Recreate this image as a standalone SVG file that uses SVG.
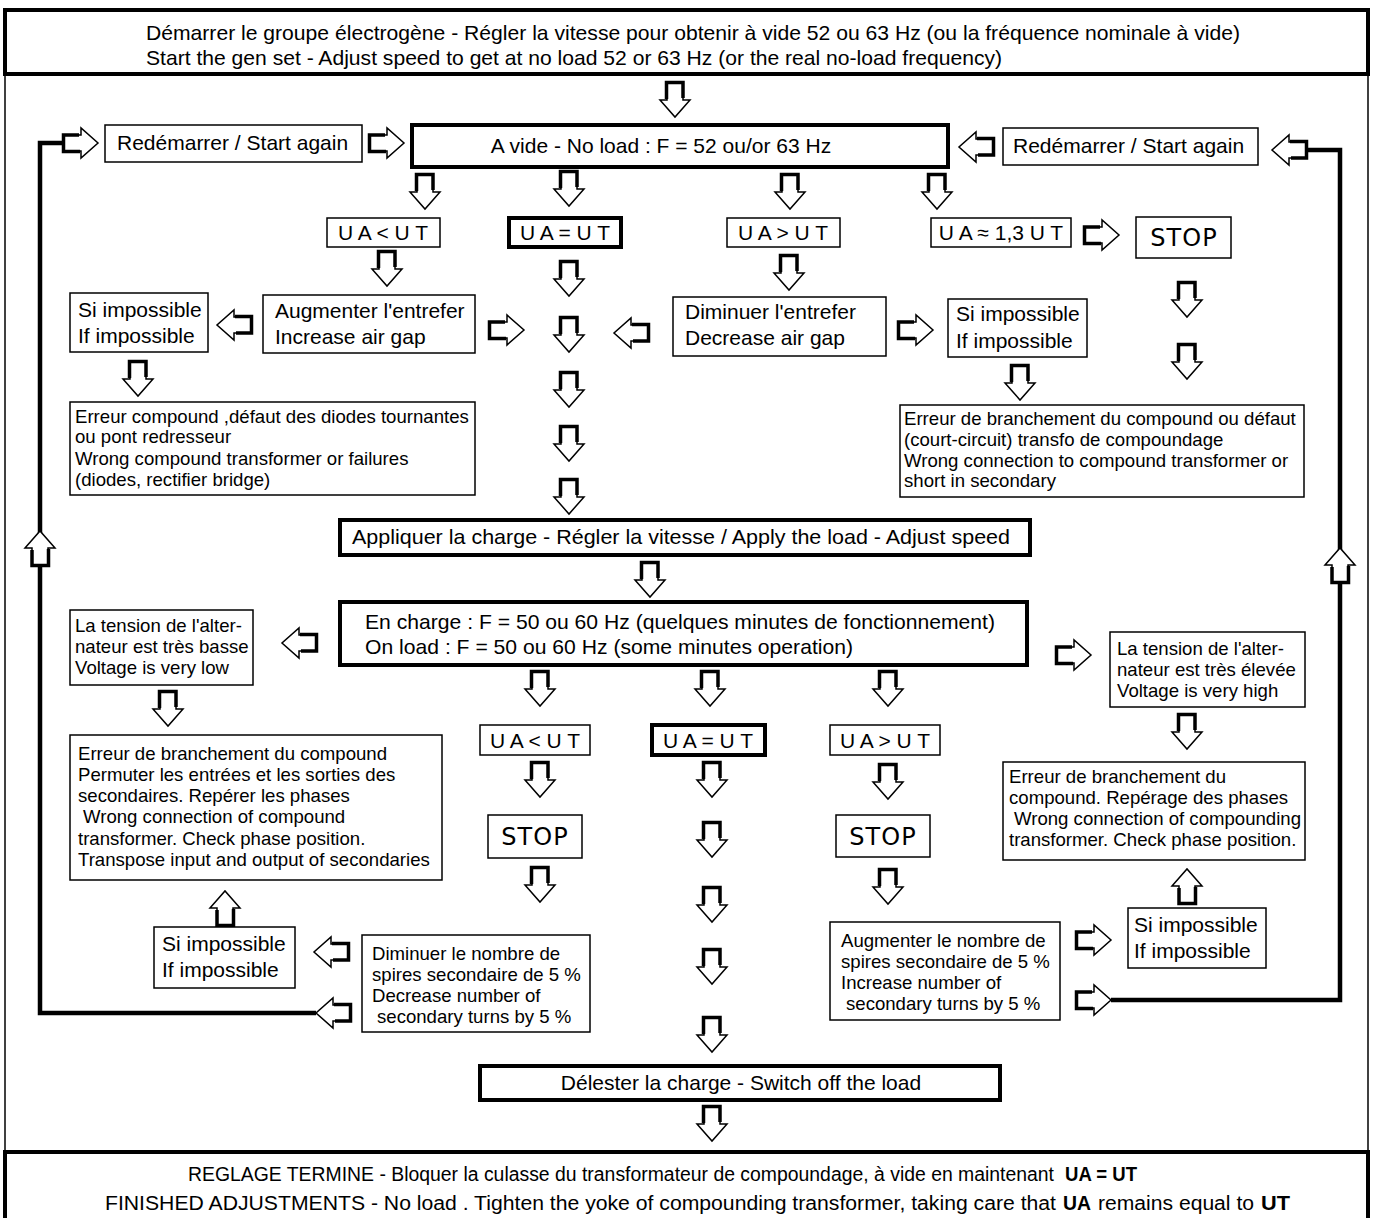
<svg xmlns="http://www.w3.org/2000/svg" xmlns:xlink="http://www.w3.org/1999/xlink" width="1373" height="1218" viewBox="0 0 1373 1218">
<style>
text{font-family:"Liberation Sans",Arial,sans-serif;font-size:21px;fill:#000}
.s{font-size:18.6px}
.e{font-size:19.5px}
.b{font-weight:bold}
.stop{font-family:"DejaVu Sans","Liberation Sans",sans-serif;font-size:24px;letter-spacing:1px}
.thin{fill:#fff;stroke:#000;stroke-width:1.5}
.thick{fill:#fff;stroke:#000;stroke-width:4}
.frame{fill:none;stroke:#000;stroke-width:1.5}
.loop{fill:none;stroke:#000;stroke-width:4.5}
</style>
<defs>
<g id="ad">
<polygon points="-8,0 8,0 8,17 15,17 0,34 -15,17 -8,17" fill="#fff" stroke="#000" stroke-width="1.5" stroke-linejoin="miter"/>
<path d="M-8.5,16 V-0.5 H8 V15" fill="none" stroke="#000" stroke-width="3.5"/>
</g>
</defs>
<rect width="1373" height="1218" fill="#fff"/>
<g id="frame">
<line x1="5" y1="10" x2="5" y2="1218" class="frame"/>
<line x1="1368" y1="10" x2="1368" y2="1218" class="frame"/>
</g>
<g id="connectors">
<polyline class="loop" points="316,1013 40,1013 40,143 64,143"/>
<polyline class="loop" points="1111,1000 1340,1000 1340,150 1306,150"/>
<use xlink:href="#ad" transform="translate(675,83)"/>
<use xlink:href="#ad" transform="translate(64,143) rotate(-90)"/>
<use xlink:href="#ad" transform="translate(370,143) rotate(-90)"/>
<use xlink:href="#ad" transform="translate(993,147) rotate(90)"/>
<use xlink:href="#ad" transform="translate(1306,150) rotate(90)"/>
<use xlink:href="#ad" transform="translate(425,175)"/>
<use xlink:href="#ad" transform="translate(569,172)"/>
<use xlink:href="#ad" transform="translate(790,175)"/>
<use xlink:href="#ad" transform="translate(937,175)"/>
<use xlink:href="#ad" transform="translate(1085,235) rotate(-90)"/>
<use xlink:href="#ad" transform="translate(387,252)"/>
<use xlink:href="#ad" transform="translate(569,262)"/>
<use xlink:href="#ad" transform="translate(569,318)"/>
<use xlink:href="#ad" transform="translate(569,373)"/>
<use xlink:href="#ad" transform="translate(569,427)"/>
<use xlink:href="#ad" transform="translate(569,480)"/>
<use xlink:href="#ad" transform="translate(789,256)"/>
<use xlink:href="#ad" transform="translate(1187,283)"/>
<use xlink:href="#ad" transform="translate(1187,345)"/>
<use xlink:href="#ad" transform="translate(251,325) rotate(90)"/>
<use xlink:href="#ad" transform="translate(490,330) rotate(-90)"/>
<use xlink:href="#ad" transform="translate(648,333) rotate(90)"/>
<use xlink:href="#ad" transform="translate(899,330) rotate(-90)"/>
<use xlink:href="#ad" transform="translate(138,362)"/>
<use xlink:href="#ad" transform="translate(1020,366)"/>
<use xlink:href="#ad" transform="translate(40,565) rotate(180)"/>
<use xlink:href="#ad" transform="translate(1340,582) rotate(180)"/>
<use xlink:href="#ad" transform="translate(650,563)"/>
<use xlink:href="#ad" transform="translate(316,643) rotate(90)"/>
<use xlink:href="#ad" transform="translate(1057,655) rotate(-90)"/>
<use xlink:href="#ad" transform="translate(540,672)"/>
<use xlink:href="#ad" transform="translate(710,672)"/>
<use xlink:href="#ad" transform="translate(888,672)"/>
<use xlink:href="#ad" transform="translate(168,692)"/>
<use xlink:href="#ad" transform="translate(1187,715)"/>
<use xlink:href="#ad" transform="translate(540,763)"/>
<use xlink:href="#ad" transform="translate(540,868)"/>
<use xlink:href="#ad" transform="translate(888,765)"/>
<use xlink:href="#ad" transform="translate(888,870)"/>
<use xlink:href="#ad" transform="translate(712,763)"/>
<use xlink:href="#ad" transform="translate(712,823)"/>
<use xlink:href="#ad" transform="translate(712,888)"/>
<use xlink:href="#ad" transform="translate(712,950)"/>
<use xlink:href="#ad" transform="translate(712,1018)"/>
<use xlink:href="#ad" transform="translate(225,925) rotate(180)"/>
<use xlink:href="#ad" transform="translate(1187,903) rotate(180)"/>
<use xlink:href="#ad" transform="translate(348,952) rotate(90)"/>
<use xlink:href="#ad" transform="translate(350,1013) rotate(90)"/>
<use xlink:href="#ad" transform="translate(1077,940) rotate(-90)"/>
<use xlink:href="#ad" transform="translate(1077,1000) rotate(-90)"/>
<use xlink:href="#ad" transform="translate(712,1107)"/>
</g>
<g id="n-start">
<rect class="thick" x="5" y="10" width="1363" height="64"/>
<text x="146" y="40" textLength="1094" lengthAdjust="spacingAndGlyphs">Démarrer le groupe électrogène - Régler la vitesse pour obtenir à vide 52 ou 63 Hz (ou la fréquence nominale à vide)</text>
<text x="146" y="65" textLength="856" lengthAdjust="spacingAndGlyphs">Start the gen set - Adjust speed to get at no load 52 or 63 Hz (or the real no-load frequency)</text>
</g>
<g id="n-novide">
<rect class="thick" x="412" y="125" width="536" height="42"/>
<text x="661" y="153" text-anchor="middle">A vide - No load : F = 52 ou/or 63 Hz</text>
</g>
<g id="n-restart-l">
<rect class="thin" x="105" y="125" width="257" height="37"/>
<text x="117" y="150">Redémarrer / Start again</text>
</g>
<g id="n-restart-r">
<rect class="thin" x="1003" y="128" width="255" height="37"/>
<text x="1013" y="153">Redémarrer / Start again</text>
</g>
<g id="n-ua-lt1">
<rect class="thin" x="327" y="218" width="113" height="29"/>
<text x="383" y="240" text-anchor="middle">U A &lt; U T</text>
</g>
<g id="n-ua-eq1">
<rect class="thick" x="509" y="218" width="112" height="29"/>
<text x="565" y="240" text-anchor="middle">U A = U T</text>
</g>
<g id="n-ua-gt1">
<rect class="thin" x="727" y="218" width="113" height="29"/>
<text x="783" y="240" text-anchor="middle">U A &gt; U T</text>
</g>
<g id="n-ua-13">
<rect class="thin" x="931" y="218" width="140" height="29"/>
<text x="1001" y="240" text-anchor="middle">U A ≈ 1,3 U T</text>
</g>
<g id="n-stop1">
<rect class="thin" x="1136" y="217" width="95" height="41"/>
<text class="stop" x="1184" y="246" text-anchor="middle">STOP</text>
</g>
<g id="n-aug-gap">
<rect class="thin" x="263" y="295" width="212" height="58"/>
<text x="275" y="318">Augmenter l'entrefer</text>
<text x="275" y="344">Increase air gap</text>
</g>
<g id="n-imp1">
<rect class="thin" x="70" y="293" width="138" height="59"/>
<text x="78" y="317">Si impossible</text>
<text x="78" y="343">If impossible</text>
</g>
<g id="n-err1">
<rect class="thin" x="70" y="402" width="405" height="93"/>
<text class="s" x="75" y="423">Erreur compound ,défaut des diodes tournantes</text>
<text class="s" x="75" y="443">ou pont redresseur</text>
<text class="s" x="75" y="465">Wrong compound transformer or failures</text>
<text class="s" x="75" y="486">(diodes, rectifier bridge)</text>
</g>
<g id="n-dim-gap">
<rect class="thin" x="673" y="297" width="213" height="59"/>
<text x="685" y="319">Diminuer l'entrefer</text>
<text x="685" y="345">Decrease air gap</text>
</g>
<g id="n-imp2">
<rect class="thin" x="948" y="299" width="139" height="58"/>
<text x="956" y="321">Si impossible</text>
<text x="956" y="348">If impossible</text>
</g>
<g id="n-err2">
<rect class="thin" x="900" y="405" width="404" height="92"/>
<text class="s" x="904" y="425">Erreur de branchement du compound ou défaut</text>
<text class="s" x="904" y="446">(court-circuit) transfo de compoundage</text>
<text class="s" x="904" y="467">Wrong connection to compound transformer or</text>
<text class="s" x="904" y="487">short in secondary</text>
</g>
<g id="n-apply">
<rect class="thick" x="340" y="520" width="690" height="35"/>
<text x="352" y="544" textLength="658" lengthAdjust="spacingAndGlyphs">Appliquer la charge - Régler la vitesse  / Apply the load - Adjust speed</text>
</g>
<g id="n-onload">
<rect class="thick" x="340" y="602" width="687" height="63"/>
<text x="365" y="629" textLength="630" lengthAdjust="spacingAndGlyphs">En charge : F = 50 ou 60 Hz (quelques minutes de fonctionnement)</text>
<text x="365" y="654" textLength="488" lengthAdjust="spacingAndGlyphs">On load : F = 50 ou 60 Hz (some minutes operation)</text>
</g>
<g id="n-low">
<rect class="thin" x="70" y="610" width="183" height="75"/>
<text class="s" x="75" y="632">La tension de l'alter-</text>
<text class="s" x="75" y="653">nateur est très basse</text>
<text class="s" x="75" y="674">Voltage is very low</text>
</g>
<g id="n-err3">
<rect class="thin" x="70" y="735" width="372" height="145"/>
<text class="s" x="78" y="760">Erreur de branchement du compound</text>
<text class="s" x="78" y="781">Permuter les entrées et les sorties des</text>
<text class="s" x="78" y="802">secondaires. Repérer les phases</text>
<text class="s" x="83" y="823">Wrong connection of compound</text>
<text class="s" x="78" y="845">transformer. Check phase position.</text>
<text class="s" x="78" y="866">Transpose input and output of secondaries</text>
</g>
<g id="n-imp3">
<rect class="thin" x="154" y="927" width="141" height="61"/>
<text x="162" y="951">Si impossible</text>
<text x="162" y="977">If impossible</text>
</g>
<g id="n-dim-turns">
<rect class="thin" x="362" y="935" width="228" height="97"/>
<text class="s" x="372" y="960">Diminuer le nombre de</text>
<text class="s" x="372" y="981">spires secondaire de 5 %</text>
<text class="s" x="372" y="1002">Decrease number of</text>
<text class="s" x="377" y="1023">secondary turns by 5 %</text>
</g>
<g id="n-high">
<rect class="thin" x="1110" y="632" width="195" height="75"/>
<text class="s" x="1117" y="655">La tension de l'alter-</text>
<text class="s" x="1117" y="676">nateur est très élevée</text>
<text class="s" x="1117" y="697">Voltage is very high</text>
</g>
<g id="n-err4">
<rect class="thin" x="1003" y="762" width="302" height="98"/>
<text class="s" x="1009" y="783">Erreur de branchement du</text>
<text class="s" x="1009" y="804">compound. Repérage des phases</text>
<text class="s" x="1014" y="825">Wrong connection of compounding</text>
<text class="s" x="1009" y="846">transformer. Check phase position.</text>
</g>
<g id="n-imp4">
<rect class="thin" x="1128" y="908" width="138" height="60"/>
<text x="1134" y="932">Si impossible</text>
<text x="1134" y="958">If impossible</text>
</g>
<g id="n-aug-turns">
<rect class="thin" x="830" y="922" width="230" height="98"/>
<text class="s" x="841" y="947">Augmenter le nombre de</text>
<text class="s" x="841" y="968">spires secondaire de 5 %</text>
<text class="s" x="841" y="989">Increase number of</text>
<text class="s" x="846" y="1010">secondary turns by 5 %</text>
</g>
<g id="n-ua-lt2">
<rect class="thin" x="480" y="725" width="110" height="30"/>
<text x="535" y="748" text-anchor="middle">U A &lt; U T</text>
</g>
<g id="n-ua-eq2">
<rect class="thick" x="652" y="725" width="113" height="30"/>
<text x="708" y="748" text-anchor="middle">U A = U T</text>
</g>
<g id="n-ua-gt2">
<rect class="thin" x="830" y="725" width="110" height="30"/>
<text x="885" y="748" text-anchor="middle">U A &gt; U T</text>
</g>
<g id="n-stop2">
<rect class="thin" x="488" y="815" width="94" height="43"/>
<text class="stop" x="535" y="845" text-anchor="middle">STOP</text>
</g>
<g id="n-stop3">
<rect class="thin" x="836" y="815" width="94" height="42"/>
<text class="stop" x="883" y="845" text-anchor="middle">STOP</text>
</g>
<g id="n-unload">
<rect class="thick" x="480" y="1066" width="520" height="34"/>
<text x="741" y="1090" text-anchor="middle">Délester la charge - Switch off the load</text>
</g>
<g id="n-end">
<rect class="thick" x="5" y="1152" width="1363" height="70"/>
<text class="e" x="188" y="1181" textLength="866" lengthAdjust="spacingAndGlyphs">REGLAGE TERMINE - Bloquer la culasse du transformateur de compoundage, à vide en maintenant</text>
<text class="e b" x="1065" y="1181" textLength="72" lengthAdjust="spacingAndGlyphs">UA = UT</text>
<text class="e" x="105" y="1210" textLength="951" lengthAdjust="spacingAndGlyphs">FINISHED ADJUSTMENTS - No load . Tighten the yoke of compounding transformer, taking care that</text>
<text class="e b" x="1063" y="1210" textLength="28" lengthAdjust="spacingAndGlyphs">UA</text>
<text class="e" x="1098" y="1210" textLength="156" lengthAdjust="spacingAndGlyphs">remains equal to</text>
<text class="e b" x="1261" y="1210" textLength="29" lengthAdjust="spacingAndGlyphs">UT</text>
</g>
</svg>
